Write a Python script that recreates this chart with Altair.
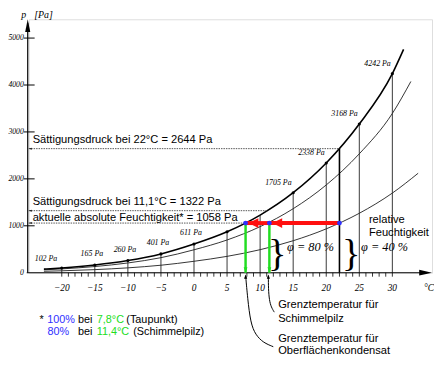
import altair as alt
import pandas as pd

# ---------------- data ----------------
sat_T = [-22.7, -20, -15, -10, -5, 0, 5, 10, 15, 20, 25, 30, 31.7]
sat_p = [77, 102, 165, 260, 401, 611, 872, 1228, 1705, 2338, 3168, 4242, 4760]
rh80_T = [-22.7, -20, -15, -10, -5, 0, 5, 10, 15, 20, 25, 30, 32.8]
rh80_p = [62, 82, 132, 208, 321, 489, 698, 982, 1364, 1870, 2534, 3394, 4075]
rh40_T = [-22.7, -20, -15, -10, -5, 0, 5, 10, 15, 20, 25, 30, 33.9]
rh40_p = [31, 41, 66, 104, 160, 244, 349, 491, 682, 935, 1267, 1697, 2120]

grid_T = [-20, -15, -10, -5, 0, 5, 10, 15, 20, 25, 30]
grid_p = [102, 165, 260, 401, 611, 872, 1228, 1705, 2338, 3168, 4242]
dot_T = [-20, -15, -10, -5, 0, 5, 15, 20, 25, 30]
dot_p = [102, 165, 260, 401, 611, 872, 1705, 2338, 3168, 4242]

labA_T = [-20]
labA_p = [102]
labB_T = [-15, -10, -5, 0]
labB_p = [165, 260, 401, 611]
labC_T = [15, 20, 25, 30]
labC_p = [1705, 2338, 3168, 4242]

ref_T = [22, 11.1, 7.8]
ref_p = [2644, 1322, 1058]
state_T = [7.8, 11.4, 22]
state_p = [1058, 1058, 1058]
red_from = [22, 11.4]
red_to = [11.4, 7.8]
green_T = [7.8, 11.4]

y_ticks = [1000, 2000, 3000, 4000, 5000]
y_labels = [0, 1000, 2000, 3000, 4000, 5000]
x_labels = [-20, -15, -10, -5, 0, 5, 10, 15, 20, 25, 30]
x_minor = list(range(-20, 31))

lead1_T = [7.81, 8.11, 8.56, 9.31, 10.5, 11.99]
lead1_p = [-63, -546, -1072, -1324, -1492, -1576]
lead2_T = [11.25, 11.25, 11.39, 11.69, 12.14]
lead2_p = [-63, -336, -588, -735, -840]

XMIN, XMAX = -25, 36
YMAX = 5400

BLUE = "#3030ff"
GREEN = "#22dd22"
RED = "#ff1010"
SANS = "Liberation Sans"
SERIF = "Liberation Serif"

xs = alt.Scale(domain=[XMIN, XMAX], nice=False, zero=False)
ys = alt.Scale(domain=[0, YMAX], nice=False, zero=False)


def X(f="T"):
    return alt.X(f"{f}:Q", scale=xs, axis=None)


def Y(f="p"):
    return alt.Y(f"{f}:Q", scale=ys, axis=None)


def df(**kw):
    return pd.DataFrame(kw)


layers = []

# curves
for T, p, w in [(sat_T, sat_p, 1.6), (rh80_T, rh80_p, 0.8), (rh40_T, rh40_p, 0.8)]:
    layers.append(
        alt.Chart(df(T=T, p=p)).mark_line(color="black", strokeWidth=w, interpolate="monotone")
        .encode(x=X(), y=Y(), order="T:Q")
    )

# vertical lines from saturation curve to axis
layers.append(
    alt.Chart(df(T=grid_T, p=grid_p)).mark_rule(color="#222", strokeWidth=0.9)
    .encode(x=X(), y=Y(), y2=alt.datum(0))
)
# dots on saturation curve
layers.append(
    alt.Chart(df(T=dot_T, p=dot_p)).mark_point(filled=True, color="black", size=10, opacity=1)
    .encode(x=X(), y=Y())
)
# dot labels
for T, p, dx, dy in [(labA_T, labA_p, -16, -9), (labB_T, labB_p, -3, -11), (labC_T, labC_p, -15, -10)]:
    layers.append(
        alt.Chart(df(T=T, p=p, t=[f"{v} Pa" for v in p]))
        .mark_text(font=SERIF, fontStyle="italic", fontSize=8, dx=dx, dy=dy, color="black")
        .encode(x=X(), y=Y(), text="t:N")
    )

# dotted reference lines to y axis
layers.append(
    alt.Chart(df(T=ref_T, p=ref_p, x0=[XMIN] * 3)).mark_rule(color="#555", strokeWidth=1, strokeDash=[1.5, 1])
    .encode(x=X("x0"), x2="T:Q", y=Y())
)
layers.append(
    alt.Chart(df(T=[XMIN] * 3, p=ref_p)).mark_point(shape="M0.4,0L3,-1L3,1Z", filled=True, color="black", size=4, opacity=1)
    .encode(x=X(), y=Y())
)
# 22 C vertical
layers.append(
    alt.Chart(df(T=ref_T[:1], p=ref_p[:1])).mark_rule(color="black", strokeWidth=1.6)
    .encode(x=X(), y=Y(), y2=alt.datum(0))
)

# axes
layers.append(alt.Chart(df(a=[0])).mark_rule(color="black", strokeWidth=1.2)
              .encode(x=alt.value(-1), y=alt.value(4), y2=alt.value(257)))
layers.append(alt.Chart(df(a=[0])).mark_rule(color="black", strokeWidth=1.2)
              .encode(x=alt.value(-2), x2=alt.value(404), y=alt.value(257)))
layers.append(alt.Chart(df(a=[0])).mark_point(shape="M0,0L-0.4,2L0.4,2Z", filled=True, color="black", size=169, opacity=1)
              .encode(x=alt.value(-1), y=alt.value(0)))
layers.append(alt.Chart(df(a=[0])).mark_point(shape="M0,0L-2,-0.45L-2,0.45Z", filled=True, color="black", size=169, opacity=1)
              .encode(x=alt.value(409), y=alt.value(257)))

# y ticks and labels
layers.append(alt.Chart(df(p=y_ticks)).mark_rule(color="black", strokeWidth=1)
              .encode(x=alt.value(-5), x2=alt.value(6), y=Y()))
layers.append(alt.Chart(df(p=y_labels, t=[str(v) for v in y_labels]))
              .mark_text(font=SERIF, fontStyle="italic", fontSize=7.8, align="right", baseline="middle", color="black")
              .encode(x=alt.value(-5), y=Y(), text="t:N"))
# x minor ticks and labels
layers.append(alt.Chart(df(T=x_minor)).mark_rule(color="black", strokeWidth=0.8)
              .encode(x=X(), y=alt.value(257), y2=alt.value(261)))
layers.append(alt.Chart(df(T=x_labels, t=[str(v).replace("-", "\u2212") for v in x_labels]))
              .mark_text(font=SERIF, fontStyle="italic", fontSize=9.5, baseline="middle", color="black")
              .encode(x=X(), y=alt.value(273), text="t:N"))
layers.append(alt.Chart(df(t=["\u00b0C"])).mark_text(font=SERIF, fontStyle="italic", fontSize=9.5, color="black")
              .encode(x=alt.value(406), y=alt.value(273), text="t:N"))
layers.append(alt.Chart(df(t=["p"])).mark_text(font=SERIF, fontStyle="italic", fontSize=10, color="black")
              .encode(x=alt.value(-5), y=alt.value(-4), text="t:N"))
layers.append(alt.Chart(df(t=["[Pa]"])).mark_text(font=SERIF, fontStyle="italic", fontSize=10, color="black")
              .encode(x=alt.value(15), y=alt.value(-4), text="t:N"))

# red arrows
layers.append(alt.Chart(df(T=red_from, T2=red_to, p=[1058, 1058])).mark_rule(color=RED, strokeWidth=4)
              .encode(x=X(), x2="T2:Q", y=Y()))
layers.append(alt.Chart(df(T=red_to, p=[1058, 1058])).mark_point(shape="M0.6,0L2.6,-1L2.6,1Z", filled=True, color=RED, size=100, opacity=1)
              .encode(x=X(), y=Y()))
# green arrows
layers.append(alt.Chart(df(T=green_T, p=[1058, 1058])).mark_rule(color=GREEN, strokeWidth=2.5)
              .encode(x=X(), y=Y(), y2=alt.datum(0)))
layers.append(alt.Chart(df(T=green_T, p=[0, 0])).mark_point(shape="M0,0L-0.7,-2L0.7,-2Z", filled=True, color=GREEN, size=30, opacity=1)
              .encode(x=X(), y=Y()))
# blue state points
layers.append(alt.Chart(df(T=state_T, p=state_p)).mark_point(filled=True, color=BLUE, size=24, opacity=1)
              .encode(x=X(), y=Y()))

# leader lines
for T, p in [(lead1_T, lead1_p), (lead2_T, lead2_p)]:
    layers.append(alt.Chart(df(T=T, p=p, o=list(range(len(T))))).mark_line(color="black", strokeWidth=1, interpolate="basis")
                  .encode(x=X(), y=Y(), order="o:Q"))
layers.append(alt.Chart(df(T=[lead1_T[0], lead2_T[0]], p=[lead1_p[0], lead2_p[0]]))
              .mark_point(shape="M0,-0.6L-0.8,1.6L0.8,1.6Z", filled=True, color="black", size=16, opacity=1)
              .encode(x=X(), y=Y()))

# braces
for xv in [252, 327]:
    layers.append(alt.Chart(df(t=["}"])).mark_text(font=SERIF, fontSize=39, baseline="middle", color="black")
                  .encode(x=alt.value(xv), y=alt.value(238.5), text="t:N"))
for xv, t in [(262, "\u03c6 = 80 %"), (337, "\u03c6  = 40 %")]:
    layers.append(alt.Chart(df(t=[t])).mark_text(font=SERIF, fontStyle="italic", fontSize=12.5, align="left", baseline="middle", color="black")
                  .encode(x=alt.value(xv), y=alt.value(231), text="t:N"))

# plain sans texts
sans_texts = [
    (4, 122, "S\u00e4ttigungsdruck bei 22\u00b0C = 2644 Pa"),
    (4, 185.5, "S\u00e4ttigungsdruck bei 11,1\u00b0C = 1322 Pa"),
    (4, 202, "aktuelle absolute Feuchtigkeit* = 1058 Pa"),
    (345, 204, "relative"),
    (345, 217, "Feuchtigkeit"),
    (253, 290, "Grenztemperatur f\u00fcr"),
    (253, 303.5, "Schimmelpilz"),
    (253, 324, "Grenztemperatur f\u00fcr"),
    (253, 336.5, "Oberfl\u00e4chenkondensat"),
]
for xv, yv, t in sans_texts:
    layers.append(alt.Chart(df(t=[t])).mark_text(font=SANS, fontSize=11.3, align="left", baseline="middle", color="black")
                  .encode(x=alt.value(xv), y=alt.value(yv), text="t:N"))

# footnote (multi-colour)
foot = [
    (11, 305, "*", "black"), (18.7, 305, "100%", BLUE), (50, 305, "bei", "black"),
    (69, 305, "7,8\u00b0C", GREEN), (99, 305, "(Taupunkt)", "black"),
    (19, 317, "80%", BLUE), (50, 317, "bei", "black"),
    (69, 317, "11,4\u00b0C", GREEN), (106, 317, "(Schimmelpilz)", "black"),
]
for xv, yv, t, c in foot:
    layers.append(alt.Chart(df(t=[t])).mark_text(font=SANS, fontSize=11, align="left", baseline="middle", color=c)
                  .encode(x=alt.value(xv), y=alt.value(yv), text="t:N"))

chart = alt.layer(*layers).properties(
    width=409, height=257,
    padding={"left": 21, "top": 9, "right": 2, "bottom": 83},
    autosize=alt.AutoSizeParams(type="none"),
).configure_view(stroke=None).configure(background="white")

chart.save("out.html", embed_options={"renderer": "svg", "actions": False})
